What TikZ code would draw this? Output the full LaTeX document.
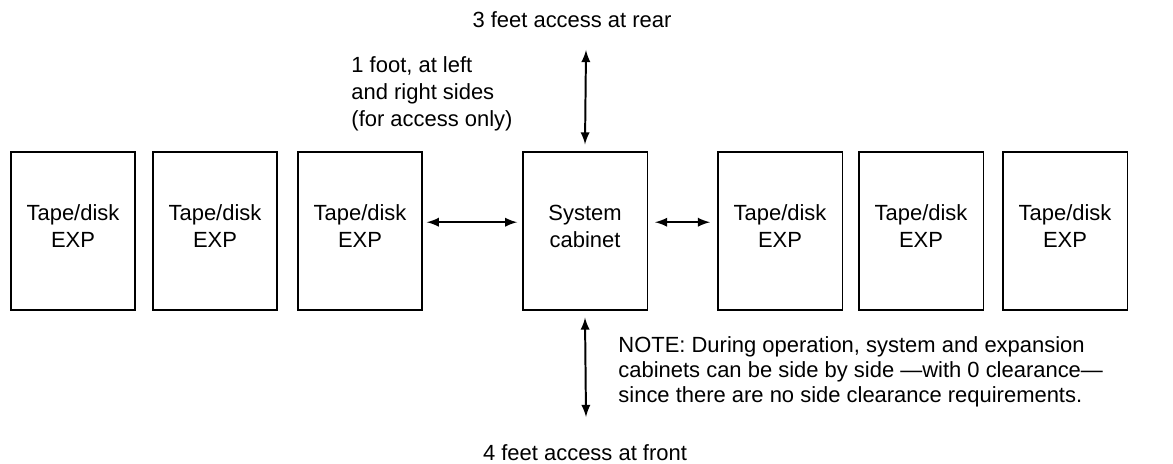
\documentclass[tikz,border=0pt]{standalone}
\usepackage{fontspec}
\setmainfont{Liberation Sans}
\begin{document}
\begin{tikzpicture}[x=0.016cm, y=-0.016cm, >=latex,
    cab/.style={draw, line width=0.9pt, minimum width=2cm, minimum height=2.53cm, inner sep=0pt},
    lbl/.style={align=center, inner sep=0pt, font=\fontsize{10}{12.3}\selectfont},
    acc/.style={<->, line width=0.9pt}]
    \useasboundingbox (0,0) rectangle (1173,464);
    % cabinets
    \foreach \n/\x in {exp1/73, exp2/215, exp3/360, exp4/780, exp5/921, exp6/1065}{
        \node[cab] (\n) at (\x,231) {};
        \node[lbl] (\n txt) at (\x,226) {Tape/disk\\EXP};
    }
    \node[cab] (sys) at (585,231) {};
    \node[lbl] (systxt) at (585,226) {System\\cabinet};
    % clearances
    \node[lbl, anchor=base] (rear) at (572,28) {3 feet access at rear};
    \node[lbl, anchor=base] (front) at (585,460) {4 feet access at front};
    \node[lbl, align=left, anchor=base west, font=\fontsize{10}{12.5}\selectfont] (side) at (351,127)
        {1 foot, at left\\and right sides\\(for access only)};
    \node[lbl, align=left, anchor=base west, font=\fontsize{10}{11.3}\selectfont] (note) at (618,402)
        {NOTE: During operation, system and expansion\\cabinets can be side by side ---with 0 clearance---\\since there are no side clearance requirements.};
    \coordinate (reartip) at (586,50);
    \coordinate (fronttip) at (586,417);
    \draw[acc] (reartip) -- ([yshift=3pt]sys.north);
    \draw[acc] ([yshift=-3pt]sys.south) -- (fronttip);
    \draw[acc] ([xshift=1.5pt, yshift=4pt]exp3.east) -- ([xshift=-2pt, yshift=4pt]sys.west);
    \draw[acc] ([xshift=3pt, yshift=4pt]sys.east) -- ([xshift=-3pt, yshift=4pt]exp4.west);
\end{tikzpicture}
\end{document}
